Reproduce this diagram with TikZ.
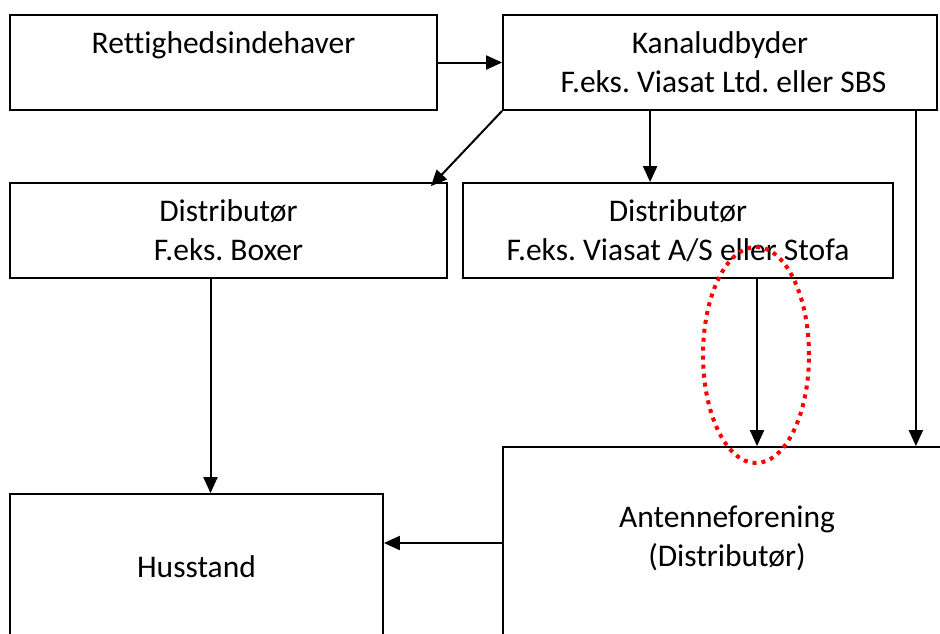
\documentclass[tikz,border=0pt]{standalone}
\usepackage{fontspec}
\setmainfont[Ligatures=NoCommon]{Carlito}
\frenchspacing
\usetikzlibrary{arrows.meta}

\tikzset{
  box/.style={draw, line width=1.8pt, align=center, inner sep=0pt,
    font=\fontsize{31.5}{39}\selectfont},
  boxtext/.style={align=center, inner sep=0pt, font=\fontsize{31.5}{39}\selectfont},
  arr/.style={draw, line width=2pt, -{Triangle[length=16pt,width=14pt]}},
  ring/.style={draw=red, line width=4pt, dash pattern=on 4pt off 5pt}
}

\begin{document}
\begin{tikzpicture}[x=1pt, y=-1pt]

        \clip (0,0) rectangle (940,633);

        \node[box, minimum width=427pt, minimum height=95pt] (ret) at (223.5,62.5) {Rettighedsindehaver\\\mbox{}};
        \node[box, minimum width=434pt, minimum height=95pt] (kan) at (720,62.5) {Kanaludbyder\\ \ F.eks. Viasat Ltd. eller SBS};

        \node[box, minimum width=437pt, minimum height=95pt] (disA) at (228.5,230.5) {Distributør\\F.eks. Boxer};
        \node[box, minimum width=430pt, minimum height=95pt] (disB) at (678,230.5) {Distributør\\F.eks. Viasat A/S eller Stofa};

        \node[box, minimum width=452pt, minimum height=203pt] (ant) at (729,548.5) {};
        \node[boxtext] (antlbl) at (727,538) {Antenneforening\\(Distributør)};
        \node[box, minimum width=373pt, minimum height=146pt] (hus) at (196.5,567) {Husstand};

        % start points of the vertical links
        \coordinate (kanB) at ([xshift=148pt]kan.south west);
        \coordinate (kanC) at ([xshift=-22pt]kan.south east);
        \coordinate (disBout) at ([xshift=79pt]disB.south);
        \coordinate (disAout) at ([xshift=-18pt]disA.south);
        \coordinate (antout) at ([yshift=5.5pt]ant.west);

        \draw[arr] (ret.east) -- (kan.west);
        \draw[arr] (kan.south west) -- ([xshift=-17pt,yshift=-4pt]disA.north east);
        \draw[arr] (kanB) -- (kanB |- disB.north);
        \draw[arr] (kanC) -- (kanC |- ant.north);
        \draw[arr] (disBout) -- (disBout |- ant.north);
        \draw[arr] (disAout) -- (disAout |- hus.north);
        \draw[arr] (antout) -- (antout -| hus.east);

        \draw[ring] (756,355) ellipse [x radius=53pt, y radius=108pt];

      \end{tikzpicture}
\end{document}
